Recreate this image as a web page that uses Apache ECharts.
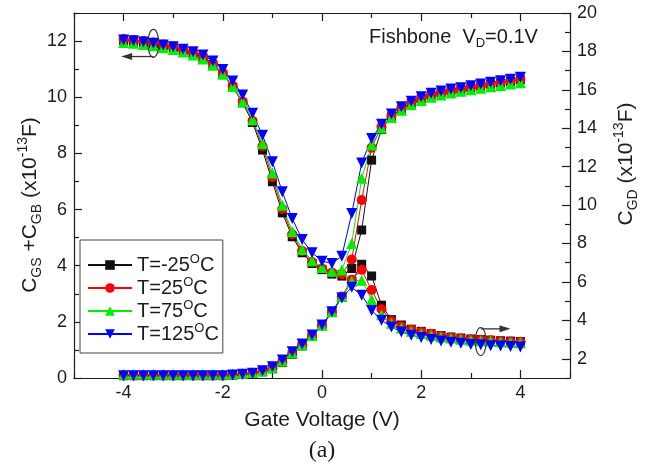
<!DOCTYPE html>
<html>
<head>
<meta charset="utf-8">
<script src="https://cdn.jsdelivr.net/npm/echarts@6/dist/echarts.min.js"></script>
<style>
  html, body { margin: 0; padding: 0; background: #ffffff; }
  #chart { width: 651px; height: 465px; }
</style>
</head>
<body>
<div id="chart"></div>
<script>
// Gate voltage sweep (V)
const gateVoltage = [-4.0, -3.8, -3.6, -3.4, -3.2, -3.0, -2.8, -2.6, -2.4, -2.2, -2.0,
  -1.8, -1.6, -1.4, -1.2, -1.0, -0.8, -0.6, -0.4, -0.2, 0.0,
  0.2, 0.4, 0.6, 0.8, 1.0, 1.2, 1.4, 1.6, 1.8, 2.0,
  2.2, 2.4, 2.6, 2.8, 3.0, 3.2, 3.4, 3.6, 3.8, 4.0];

// Tick values
const xTickLabels = [-4, -2, 0, 2, 4];
const xMinorTicks = [-5, -3, -1, 1, 3, 5];
const leftTickLabels = [0, 2, 4, 6, 8, 10, 12];
const leftMinorTicks = [1, 3, 5, 7, 9, 11, 13];
const rightTickLabels = [2, 4, 6, 8, 10, 12, 14, 16, 18, 20];
const rightMinorTicks = [1, 3, 5, 7, 9, 11, 13, 15, 17, 19];

const temperatures = ['T=-25°C', 'T=25°C', 'T=75°C', 'T=125°C'];

// C_GS + C_GB (x1e-13 F), left axis
const cgsb_m25 = [12.02, 11.99, 11.95, 11.90, 11.83, 11.76, 11.66, 11.55, 11.40, 11.16, 10.82,
  10.36, 9.80, 9.10, 8.12, 6.99, 5.88, 5.03, 4.46, 4.08, 3.86,
  3.70, 3.63, 3.90, 5.27, 7.76, 8.85, 9.30, 9.58, 9.78, 9.94,
  10.06, 10.15, 10.22, 10.28, 10.34, 10.40, 10.46, 10.51, 10.56, 10.62];
const cgsb_25 = [12.07, 12.04, 12.00, 11.95, 11.88, 11.81, 11.71, 11.60, 11.45, 11.20, 10.86,
  10.40, 9.85, 9.15, 8.25, 7.15, 6.02, 5.12, 4.52, 4.13, 3.90,
  3.76, 3.70, 4.22, 6.34, 8.20, 8.95, 9.33, 9.60, 9.80, 9.95,
  10.07, 10.16, 10.23, 10.29, 10.35, 10.41, 10.47, 10.52, 10.57, 10.63];
const cgsb_75 = [11.95, 11.92, 11.88, 11.83, 11.76, 11.70, 11.61, 11.50, 11.36, 11.14, 10.82,
  10.38, 9.84, 9.20, 8.35, 7.30, 6.15, 5.22, 4.58, 4.18, 3.94,
  3.80, 3.85, 4.79, 7.11, 8.30, 8.90, 9.28, 9.54, 9.73, 9.88,
  10.00, 10.08, 10.15, 10.21, 10.27, 10.32, 10.37, 10.42, 10.47, 10.52];
const cgsb_125 = [12.04, 12.01, 11.97, 11.92, 11.86, 11.80, 11.71, 11.62, 11.50, 11.29, 10.99,
  10.58, 10.08, 9.43, 8.65, 7.70, 6.63, 5.68, 4.93, 4.46, 4.16,
  4.08, 4.34, 5.86, 7.66, 8.53, 9.04, 9.40, 9.66, 9.86, 10.02,
  10.14, 10.22, 10.29, 10.34, 10.41, 10.47, 10.53, 10.59, 10.64, 10.71];

// C_GD (x1e-13 F), right axis
const cgd_m25 = [1.12, 1.12, 1.12, 1.12, 1.12, 1.12, 1.12, 1.12, 1.12, 1.12, 1.12,
  1.15, 1.18, 1.22, 1.32, 1.48, 1.80, 2.23, 2.67, 3.16, 3.72,
  4.42, 5.21, 6.04, 6.92, 6.31, 4.79, 4.04, 3.76, 3.54, 3.43,
  3.31, 3.21, 3.13, 3.08, 3.03, 3.00, 2.97, 2.94, 2.92, 2.90];
const cgd_25 = [1.13, 1.13, 1.13, 1.13, 1.13, 1.13, 1.13, 1.13, 1.13, 1.13, 1.13,
  1.16, 1.19, 1.23, 1.35, 1.51, 1.83, 2.26, 2.70, 3.18, 3.73,
  4.44, 5.24, 6.12, 6.63, 5.58, 4.58, 3.97, 3.70, 3.51, 3.40,
  3.30, 3.19, 3.12, 3.06, 3.02, 2.99, 2.96, 2.93, 2.90, 2.89];
const cgd_75 = [1.19, 1.19, 1.19, 1.19, 1.19, 1.19, 1.19, 1.19, 1.19, 1.19, 1.19,
  1.22, 1.25, 1.28, 1.38, 1.54, 1.88, 2.30, 2.73, 3.21, 3.75,
  4.45, 5.24, 6.04, 6.09, 5.09, 4.29, 3.85, 3.60, 3.43, 3.31,
  3.22, 3.13, 3.08, 3.02, 2.97, 2.94, 2.92, 2.89, 2.86, 2.84];
const cgd_125 = [1.12, 1.12, 1.12, 1.12, 1.12, 1.12, 1.12, 1.12, 1.12, 1.12, 1.12,
  1.15, 1.19, 1.25, 1.38, 1.58, 1.94, 2.36, 2.77, 3.24, 3.76,
  4.45, 5.17, 5.72, 5.31, 4.52, 4.01, 3.66, 3.40, 3.22, 3.11,
  3.00, 2.93, 2.86, 2.81, 2.75, 2.73, 2.68, 2.66, 2.64, 2.61];

const FONT = '"Liberation Sans", Arial, Helvetica, sans-serif';
const INK = '#1c1c1c';

const styles = [
  { color: '#111111', symbol: 'rect', size: 9, rotate: 0 },
  { color: '#ff0000', symbol: 'circle', size: 10, rotate: 0 },
  { color: '#00ee00', symbol: 'triangle', size: 11, rotate: 0 },
  { color: '#0000ff', symbol: 'triangle', size: 11, rotate: 180 }
];
const leftData = [cgsb_m25, cgsb_25, cgsb_75, cgsb_125];
const rightData = [cgd_m25, cgd_25, cgd_75, cgd_125];

function pairs(values) {
  return gateVoltage.map((v, i) => [v, values[i]]);
}

function makeSeries(name, values, st, yIndex) {
  return {
    name: name,
    type: 'line',
    xAxisIndex: 0,
    yAxisIndex: yIndex,
    data: pairs(values),
    symbol: st.symbol,
    symbolSize: st.size,
    symbolRotate: st.rotate,
    showAllSymbol: true,
    lineStyle: { color: st.color, width: 1 },
    itemStyle: { color: st.color, borderWidth: 0 },
    emphasis: { disabled: true },
    animation: false
  };
}

const series = [];
temperatures.forEach((t, k) => series.push(makeSeries(t, leftData[k], styles[k], 0)));
temperatures.forEach((t, k) => series.push(makeSeries(t, rightData[k], styles[k], 2)));

const axisLine = { show: true, onZero: false, lineStyle: { color: INK, width: 1.2 } };
const hiddenLine = { show: false, onZero: false };
const tickStyle = { color: INK, width: 1.2 };

function xAxisDef(pos, ticks, len, showLine, withLabels) {
  return {
    type: 'value', min: -5, max: 5, position: pos,
    axisLine: showLine ? axisLine : hiddenLine,
    axisTick: { show: true, inside: true, length: len, customValues: ticks, lineStyle: tickStyle },
    axisLabel: withLabels
      ? { show: true, customValues: ticks, fontSize: 18, color: INK, fontFamily: FONT, margin: 6 }
      : { show: false },
    splitLine: { show: false }
  };
}
function yAxisDef(pos, min, max, ticks, len, showLine, withLabels) {
  return {
    type: 'value', min: min, max: max, position: pos,
    axisLine: showLine ? axisLine : hiddenLine,
    axisTick: { show: true, inside: true, length: len, customValues: ticks, lineStyle: tickStyle },
    axisLabel: withLabels
      ? { show: true, customValues: ticks, fontSize: 18, color: INK, fontFamily: FONT, margin: 7 }
      : { show: false },
    splitLine: { show: false }
  };
}

const xMain = xAxisDef('bottom', xTickLabels, 8, true, true);
xMain.name = 'Gate Voltage (V)';
xMain.nameLocation = 'middle';
xMain.nameGap = 32;
xMain.nameTextStyle = { fontSize: 21, color: INK, fontFamily: FONT };

const legendRich = {
  n: { fontSize: 20, lineHeight: 24, color: INK, fontFamily: FONT },
  sup: { fontSize: 13, lineHeight: 13, verticalAlign: 'top', color: INK, fontFamily: FONT }
};

const chart = echarts.init(document.getElementById('chart'), null, { renderer: 'canvas' });
chart.setOption({
  backgroundColor: '#ffffff',
  animation: false,
  grid: { left: 74, right: 81, top: 13, bottom: 87, containLabel: false, outerBoundsMode: 'none' },
  xAxis: [
    xMain,
    xAxisDef('bottom', xMinorTicks, 5, false, false),
    xAxisDef('top', xTickLabels, 8, true, false),
    xAxisDef('top', xMinorTicks, 5, false, false)
  ],
  yAxis: [
    yAxisDef('left', 0, 13, leftTickLabels, 8, true, true),
    yAxisDef('left', 0, 13, leftMinorTicks, 5, false, false),
    yAxisDef('right', 1, 20, rightTickLabels, 8, true, true),
    yAxisDef('right', 1, 20, rightMinorTicks, 5, false, false)
  ],
  legend: {
    data: temperatures,
    orient: 'vertical',
    left: 80, top: 240,
    itemWidth: 44, itemHeight: 12,
    itemGap: 1,
    padding: [13, 4, 9, 7],
    borderColor: '#444', borderWidth: 1,
    backgroundColor: '#ffffff',
    selectedMode: false,
    formatter: name => '{n|' + name.replace('°C', '}{sup|O}{n|C}'),
    textStyle: { fontSize: 20, color: INK, fontFamily: FONT, rich: legendRich }
  },
  series: series
});

// Text blocks and the axis-reading annotations
const titleRich = {
  n: { fontSize: 21, lineHeight: 28, fill: INK, fontFamily: FONT },
  sub: { fontSize: 14, lineHeight: 14, verticalAlign: 'bottom', fill: INK, fontFamily: FONT },
  sup: { fontSize: 14, lineHeight: 14, verticalAlign: 'top', fill: INK, fontFamily: FONT }
};
const noteRich = {
  n: { fontSize: 20, lineHeight: 26, fill: INK, fontFamily: FONT },
  sub: { fontSize: 13, lineHeight: 13, verticalAlign: 'bottom', fill: INK, fontFamily: FONT }
};

const toPx = (x, y) => chart.convertToPixel({ xAxisIndex: 0, yAxisIndex: 0 }, [x, y]);
const ringL = toPx(-3.4, 11.92);
const arrowL0 = toPx(-3.4, 11.45);
const arrowL1 = toPx(-4.05, 11.45);
const ringR = toPx(3.2, 1.3);
const arrowR0 = toPx(3.2, 1.75);
const arrowR1 = toPx(3.8, 1.75);

function arrow(p0, p1) {
  const dir = Math.sign(p1[0] - p0[0]);
  return [
    { type: 'line', shape: { x1: p0[0], y1: p0[1], x2: p1[0] - dir * 6, y2: p1[1] },
      style: { stroke: '#333', lineWidth: 1.3 }, z: 20 },
    { type: 'polygon', shape: { points: [[p1[0], p1[1]], [p1[0] - dir * 11, p1[1] - 3.5], [p1[0] - dir * 11, p1[1] + 3.5]] },
      style: { fill: '#333' }, z: 20 }
  ];
}

chart.setOption({
  graphic: [
    { type: 'text', x: 30, y: 205, rotation: Math.PI / 2, z: 30,
      style: { text: '{n|C}{sub|GS}{n| +C}{sub|GB}{n| (x10}{sup|-13}{n|F)}', rich: titleRich,
               align: 'center', verticalAlign: 'middle' } },
    { type: 'text', x: 626, y: 164, rotation: Math.PI / 2, z: 30,
      style: { text: '{n|C}{sub|GD}{n| (x10}{sup|-13}{n|F)}', rich: titleRich,
               align: 'center', verticalAlign: 'middle' } },
    { type: 'text', x: 369, y: 37, z: 30,
      style: { text: '{n|Fishbone  V}{sub|D}{n|=0.1V}', rich: noteRich, align: 'left', verticalAlign: 'middle' } },
    { type: 'text', x: 322, y: 451, z: 30,
      style: { text: '(a)', fill: INK, font: '24px "Liberation Serif", "Times New Roman", serif',
               align: 'center', verticalAlign: 'middle' } },
    { type: 'ellipse', shape: { cx: ringL[0], cy: ringL[1], rx: 5.5, ry: 14 },
      style: { fill: null, stroke: '#333', lineWidth: 1.2 }, z: 20 },
    { type: 'ellipse', shape: { cx: ringR[0], cy: ringR[1], rx: 5.5, ry: 14 },
      style: { fill: null, stroke: '#333', lineWidth: 1.2 }, z: 20 }
  ].concat(arrow(arrowL0, arrowL1), arrow(arrowR0, arrowR1))
});
</script>
</body>
</html>
